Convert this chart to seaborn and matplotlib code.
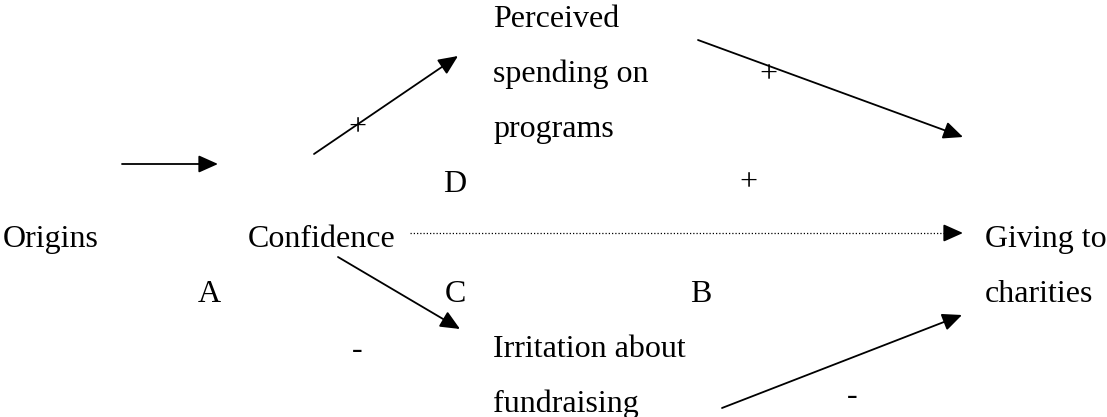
import matplotlib
matplotlib.use("Agg")
import matplotlib.pyplot as plt
import seaborn as sns

# Path model: Origins -> Confidence -> (mediators) -> Giving to charities
node_labels = ["Origins", "Confidence", "Giving to", "charities",
               "Perceived", "spending on", "programs",
               "Irritation about", "fundraising"]
path_letters = ["A", "B", "C", "D"]
edge_signs = ["+", "+", "+", "-", "-"]

# layout in pixel coordinates (y grows downwards)
node_xy = [(3, 247), (248, 247), (985, 247), (985, 302),
           (493, 27), (493, 82), (493, 137),
           (493, 357), (493, 412)]
letter_xy = [(198, 302), (690, 302), (445, 302), (443, 192)]
sign_xy = [(357, 128), (768, 75), (748, 183), (357, 350), (852, 397)]

solid_arrows = [((122, 164), (218, 164)),   # Origins -> Confidence
                ((314, 154), (458, 56)),    # Confidence -> Perceived spending
                ((698, 40), (963, 137)),    # Perceived spending -> Giving
                ((338, 257), (460, 329)),   # Confidence -> Irritation
                ((722, 408), (962, 315))]   # Irritation -> Giving
dotted_start, dotted_end = (410, 233), (963, 233)

sns.set_theme(style="white")
plt.rcParams['font.family'] = ['Liberation Serif', 'DejaVu Serif']

fig = plt.figure(figsize=(11.07, 4.17), dpi=100)
ax = fig.add_axes([0, 0, 1, 1])
ax.set_xlim(0, 1107)
ax.set_ylim(417, 0)
ax.axis('off')

fs = 23
for lab, (x, y) in zip(node_labels, node_xy):
    ax.text(x, y, lab, fontsize=fs, ha='left', va='baseline', color='black')
for lab, (x, y) in zip(path_letters, letter_xy):
    ax.text(x, y, lab, fontsize=fs, ha='left', va='baseline', color='black')
for lab, (x, y) in zip(edge_signs, sign_xy):
    ax.text(x, y, lab, fontsize=fs, ha='center', va='center', color='black')

arrow_style = dict(arrowstyle="-|>,head_length=0.85,head_width=0.38",
                   mutation_scale=14, color='black', lw=1.3,
                   shrinkA=0, shrinkB=0)
for start, end in solid_arrows:
    ax.annotate("", xy=end, xytext=start, arrowprops=arrow_style)

# dotted direct path Confidence -> Giving
ax.plot([dotted_start[0], dotted_end[0] - 14], [dotted_start[1], dotted_end[1]],
        color='black', lw=0.9, linestyle=(0, (1, 1.6)))
ax.annotate("", xy=dotted_end, xytext=(dotted_end[0] - 16, dotted_end[1]),
            arrowprops=arrow_style)

fig.savefig("out.png", dpi=100, facecolor='white')
